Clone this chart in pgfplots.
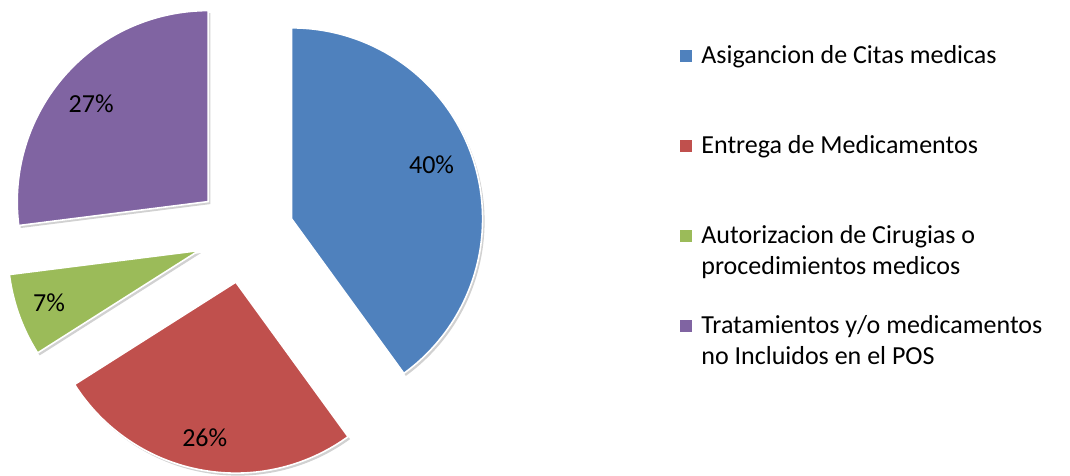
\documentclass[border=0pt]{standalone}
\usepackage{pgfplots}
\pgfplotsset{compat=1.18}
\usepackage{pgfplotstable}
\usepackage{fontspec}
\setmainfont{Carlito}
\definecolor{cblue}{HTML}{4F81BD}
\definecolor{cred}{HTML}{C0504D}
\definecolor{cgreen}{HTML}{9BBB59}
\definecolor{cpurple}{HTML}{8064A2}

\pgfplotstableread{
value
40
26
7
27
}\piedata

\newcommand\getval[2]{\pgfplotstablegetelem{#1}{value}\of\piedata\edef#2{\pgfplotsretval}}
\newcommand\piefont{\fontsize{13}{15.8}\selectfont}
\newcommand\legfont{\fontsize{13}{15.8}\selectfont}

\def\cx{245}\def\cy{242}\def\rr{191}\def\dd{49}

% #1 colour, #2 start angle, #3 end angle, #4 value, #5 label angle shift, #6 label radius factor
\newcommand\slice[6]{%
  \pgfmathsetmacro\mm{(#2+#3)/2}%
  \pgfmathsetmacro\vx{\cx+\dd*cos(\mm)}%
  \pgfmathsetmacro\vy{\cy+\dd*sin(\mm)}%
  \pgfmathsetmacro\sx{\vx+2}%
  \pgfmathsetmacro\sy{\vy-2.5}%
  \pgfmathsetmacro\lx{\vx+#6*\rr*cos(\mm+#5)}%
  \pgfmathsetmacro\ly{\vy+#6*\rr*sin(\mm+#5)}%
  \edef\doslice{%
    \noexpand\addplot[forget plot, draw=none, fill=black, fill opacity=0.18, domain=#2:#3, samples=120, variable=\noexpand\t]
      ({\sx+\rr*cos(\noexpand\t)},{\sy+\rr*sin(\noexpand\t)}) -- (axis cs:\sx,\sy) -- cycle;
    \noexpand\addplot[forget plot, draw=white, line width=0.8pt, fill=#1, domain=#2:#3, samples=120, variable=\noexpand\t]
      ({\vx+\rr*cos(\noexpand\t)},{\vy+\rr*sin(\noexpand\t)}) -- (axis cs:\vx,\vy) -- cycle;
    \noexpand\node[font=\noexpand\piefont] at (axis cs:\lx,\ly) {#4\noexpand\%};
  }\doslice
}

\begin{document}
\begin{tikzpicture}
\getval{0}\vA \getval{1}\vB \getval{2}\vC \getval{3}\vD
\pgfmathsetmacro\aA{90-3.6*\vA}
\pgfmathsetmacro\aB{\aA-3.6*\vB}
\pgfmathsetmacro\aC{\aB-3.6*\vC}
\pgfmathsetmacro\aD{\aC-3.6*\vD}
\begin{axis}[scale only axis, width=535pt, height=238pt,
  xmin=0, xmax=1070, ymin=0, ymax=476, hide axis, clip=false,
  legend cell align=left,
  legend image code/.code={\fill[#1] (0pt,-3pt) rectangle (6pt,3pt);},
  legend style={draw=none, fill=none, inner sep=0pt,
    at={(axis cs:680,435)}, anchor=north west,
    row sep=30pt, column sep=2.5pt, font=\legfont,
    nodes={text height=9pt, text depth=2pt, inner sep=2pt}},
]
\path (rel axis cs:0,0) rectangle (rel axis cs:1,1);
\slice{cblue}{\aA}{90}{\vA}{3}{0.785}
\slice{cred}{\aB}{\aA}{\vB}{-0.5}{0.83}
\slice{cgreen}{\aC}{\aB}{\vC}{-0.7}{0.83}
\slice{cpurple}{\aD}{\aC}{\vD}{1.4}{0.80}
\addlegendimage{fill=cblue, draw=none}
\addlegendentry{Asigancion de Citas medicas}
\addlegendimage{fill=cred, draw=none}
\addlegendentry{Entrega de Medicamentos}
\addlegendimage{fill=cgreen, draw=none}
\addlegendentry{\parbox[t]{175pt}{Autorizacion de Cirugias o\\procedimientos medicos}}
\addlegendimage{fill=cpurple, draw=none}
\addlegendentry{\parbox[t]{175pt}{Tratamientos y/o medicamentos\\no Incluidos en el POS}}
\end{axis}
\end{tikzpicture}
\end{document}
